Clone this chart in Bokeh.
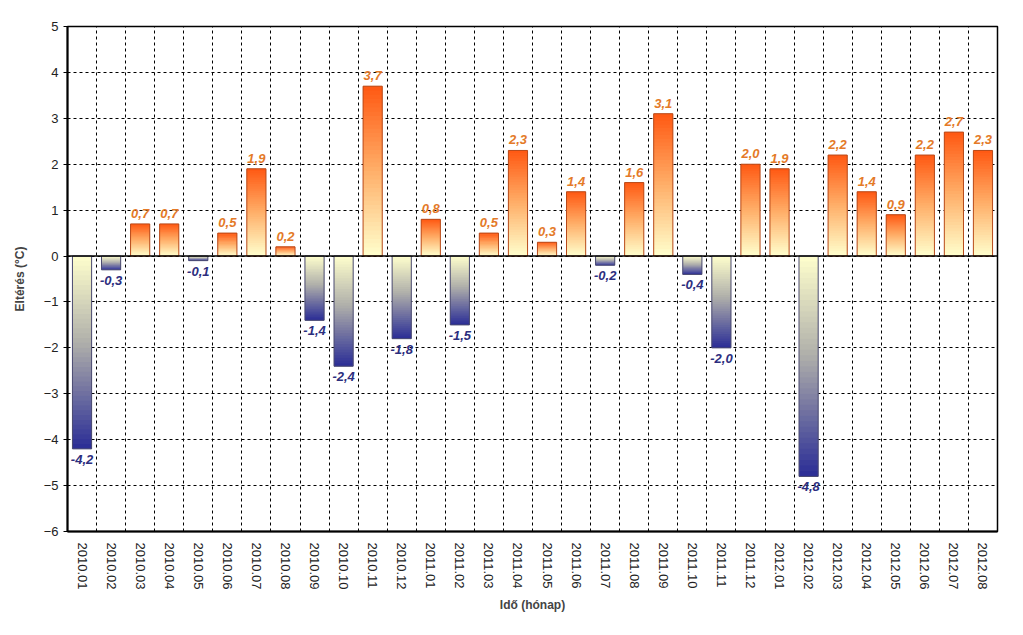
import math
from bokeh.plotting import figure
from bokeh.models import FixedTicker, Span, ColumnDataSource, Range1d
from bokeh.core.properties import value
from bokeh.embed import file_html
from bokeh.resources import INLINE

months = ["2010.01", "2010.02", "2010.03", "2010.04", "2010.05", "2010.06", "2010.07", "2010.08",
          "2010.09", "2010.10", "2010.11", "2010.12", "2011.01", "2011.02", "2011.03", "2011.04",
          "2011.05", "2011.06", "2011.07", "2011.08", "2011.09", "2011.10", "2011.11", "2011.12",
          "2012.01", "2012.02", "2012.03", "2012.04", "2012.05", "2012.06", "2012.07", "2012.08"]
deviation = [-4.2, -0.3, 0.7, 0.7, -0.1, 0.5, 1.9, 0.2,
             -1.4, -2.4, 3.7, -1.8, 0.8, -1.5, 0.5, 2.3,
             0.3, 1.4, -0.2, 1.6, 3.1, -0.4, -2.0, 2.0,
             1.9, -4.8, 2.2, 1.4, 0.9, 2.2, 2.7, 2.3]
y_ticks = [-6, -5, -4, -3, -2, -1, 0, 1, 2, 3, 4, 5]

FONT = "Liberation Sans"
BAR_W = 0.66
N_SEG = 40

POS_STOPS = [(0.0, (255, 255, 205)), (0.5, (255, 175, 105)), (1.0, (255, 88, 18))]
NEG_STOPS = [(0.0, (255, 255, 205)), (0.45, (175, 175, 170)), (1.0, (42, 44, 150))]


def interp(stops, t):
    for (t0, c0), (t1, c1) in zip(stops[:-1], stops[1:]):
        if t <= t1:
            f = (t - t0) / (t1 - t0) if t1 > t0 else 0
            r, g, b = (int(round(a + (bb - a) * f)) for a, bb in zip(c0, c1))
            return "#%02x%02x%02x" % (r, g, b)
    r, g, b = stops[-1][1]
    return "#%02x%02x%02x" % (r, g, b)


xs = [i + 0.5 for i in range(len(months))]

p = figure(width=1013, height=620, output_backend="svg", toolbar_location=None,
           x_range=Range1d(0, len(months)), y_range=Range1d(-6, 5),
           min_border_left=67, min_border_right=16, min_border_top=26, min_border_bottom=89)
p.background_fill_color = "white"
p.border_fill_color = "white"
p.outline_line_color = "black"
p.outline_line_width = 1.5

# gradient bars built from thin overlapping segments
left, right, bottom, top, colors = [], [], [], [], []
for x, v in zip(xs, deviation):
    stops = POS_STOPS if v >= 0 else NEG_STOPS
    for k in range(N_SEG):
        y0 = v * k / N_SEG
        y1 = v * min(k + 2, N_SEG) / N_SEG
        left.append(x - BAR_W / 2)
        right.append(x + BAR_W / 2)
        bottom.append(min(y0, y1))
        top.append(max(y0, y1))
        colors.append(interp(stops, (k + 0.5) / N_SEG))

p.quad(left=left, right=right, bottom=bottom, top=top, fill_color=colors, line_color=None)

outline_col = ["#b84a1a" if v >= 0 else "#4a4a70" for v in deviation]
p.vbar(x=xs, top=deviation, bottom=0, width=BAR_W, fill_alpha=0,
       line_color=outline_col, line_width=1)

# grid
p.xgrid.ticker = FixedTicker(ticks=list(range(1, len(months))))
p.xgrid.grid_line_color = "black"
p.xgrid.grid_line_dash = "3 3"
p.xgrid.grid_line_width = 1
p.ygrid.ticker = FixedTicker(ticks=y_ticks)
p.ygrid.grid_line_color = "black"
p.ygrid.grid_line_dash = "3 3"
p.ygrid.grid_line_width = 1
p.xgrid.level = "underlay"
p.ygrid.level = "underlay"

p.add_layout(Span(location=0, dimension="width", line_color="black", line_width=1.5))

# labels
lab = ColumnDataSource(dict(
    x=[x for x, v in zip(xs, deviation) if v >= 0],
    y=[v for v in deviation if v >= 0],
    t=[("%.1f" % v).replace(".", ",") for v in deviation if v >= 0]))
labn = ColumnDataSource(dict(
    x=[x for x, v in zip(xs, deviation) if v < 0],
    y=[v for v in deviation if v < 0],
    t=[("%.1f" % v).replace(".", ",") for v in deviation if v < 0]))
p.text(x="x", y="y", text="t", source=lab, text_align="center", text_baseline="bottom",
       y_offset=-6, text_color="#e47a28", text_font=value(FONT), text_font_size="13px",
       text_font_style="bold italic")
p.text(x="x", y="y", text="t", source=labn, text_align="center", text_baseline="top",
       y_offset=6, text_color="#2c2e7e", text_font=value(FONT), text_font_size="13px",
       text_font_style="bold italic")

# axes
p.xaxis.ticker = FixedTicker(ticks=xs)
p.xaxis.major_label_overrides = {x: m for x, m in zip(xs, months)}
p.xaxis.major_label_orientation = -math.pi / 2
p.xaxis.major_tick_line_color = None
p.xaxis.minor_tick_line_color = None
p.xaxis.axis_line_width = 2
p.xaxis.axis_line_color = "black"
p.xaxis.major_label_text_font = FONT
p.xaxis.major_label_text_font_size = "13px"
p.xaxis.major_label_text_color = "#222222"
p.xaxis.major_label_standoff = 5
p.xaxis.axis_label = "Idő (hónap)"
p.xaxis.axis_label_text_font = FONT
p.xaxis.axis_label_text_font_size = "12px"
p.xaxis.axis_label_text_font_style = "bold"
p.xaxis.axis_label_standoff = 6

p.yaxis.ticker = FixedTicker(ticks=y_ticks)
p.yaxis.major_tick_out = 4
p.yaxis.major_tick_in = 0
p.yaxis.minor_tick_line_color = None
p.yaxis.axis_line_width = 2
p.yaxis.axis_line_color = "black"
p.yaxis.major_label_text_font = FONT
p.yaxis.major_label_text_font_size = "13px"
p.yaxis.major_label_text_color = "#222222"
p.yaxis.major_label_standoff = 5
p.yaxis.axis_label = "Eltérés (°C)"
p.yaxis.axis_label_text_font = FONT
p.yaxis.axis_label_text_font_size = "12px"
p.yaxis.axis_label_text_font_style = "bold"
p.yaxis.axis_label_standoff = 14

open("out.html", "w").write(file_html(p, INLINE))
